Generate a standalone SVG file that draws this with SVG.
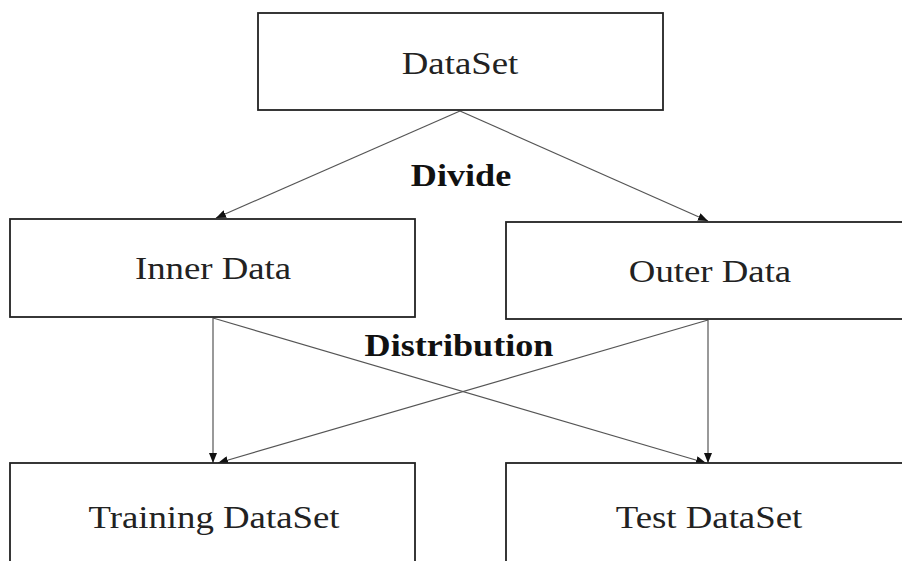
<svg xmlns="http://www.w3.org/2000/svg" width="902" height="561" viewBox="0 0 902 561">
<style>
.box{fill:#fff;stroke:#222;stroke-width:1.8}
.t{font-family:"Liberation Serif","Times New Roman",serif;font-size:32px;fill:#222;text-anchor:middle}
.b{font-family:"Liberation Serif","Times New Roman",serif;font-size:32px;font-weight:bold;fill:#111;text-anchor:middle}
.c{stroke:#555;stroke-width:1.2;fill:none;marker-end:url(#ah)}
</style>
<defs>
<marker id="ah" markerWidth="10" markerHeight="8" refX="10" refY="4" orient="auto" markerUnits="userSpaceOnUse">
<path d="M0,0 L10,4 L0,8 Z" fill="#111"/>
</marker>
</defs>
<rect width="902" height="561" fill="#fff"/>
<g id="connectors">
<line class="c" x1="460" y1="111" x2="216" y2="218"/>
<line class="c" x1="460" y1="111" x2="708" y2="221"/>
<line class="c" x1="213" y1="318" x2="213" y2="463"/>
<line class="c" x1="213" y1="318" x2="706" y2="463"/>
<line class="c" x1="708" y1="320" x2="218" y2="463"/>
<line class="c" x1="708" y1="320" x2="708" y2="463"/>
</g>
<g id="dataset"><rect class="box" x="258" y="13" width="405" height="97"/><text class="t" transform="translate(460,74) scale(1.15,1)">DataSet</text></g>
<g id="label-divide"><text class="b" transform="translate(461,186) scale(1.13,1)">Divide</text></g>
<g id="inner"><rect class="box" x="10" y="219" width="405" height="98"/><text class="t" transform="translate(213,279) scale(1.15,1)">Inner Data</text></g>
<g id="outer"><rect class="box" x="506" y="222" width="410" height="97"/><text class="t" transform="translate(710,282) scale(1.15,1)">Outer Data</text></g>
<g id="label-distribution"><text class="b" transform="translate(459,356) scale(1.13,1)">Distribution</text></g>
<g id="training"><rect class="box" x="10" y="463" width="405" height="110"/><text class="t" transform="translate(214,528) scale(1.15,1)">Training DataSet</text></g>
<g id="test"><rect class="box" x="506" y="463" width="410" height="110"/><text class="t" transform="translate(709,528) scale(1.15,1)">Test DataSet</text></g>
</svg>
